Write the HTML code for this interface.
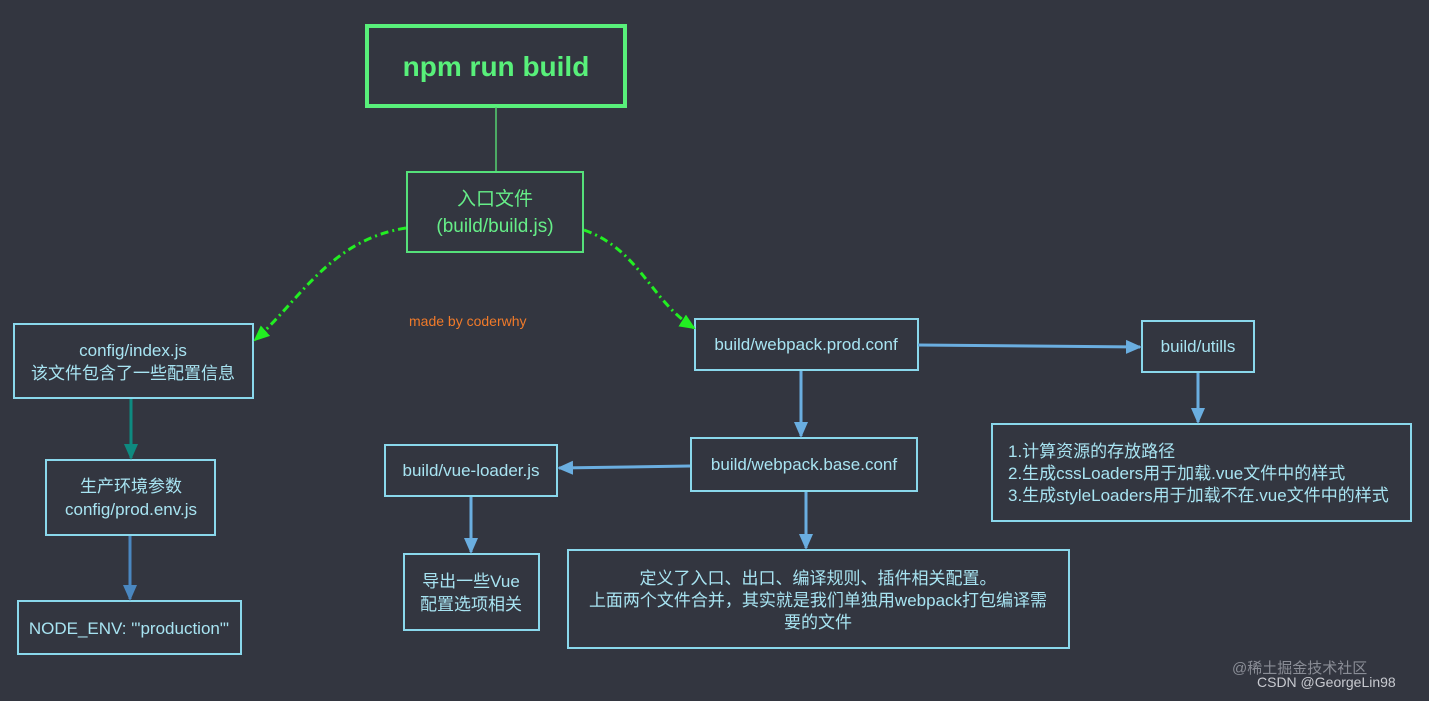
<!DOCTYPE html>
<html><head><meta charset="utf-8"><style>
html,body{margin:0;padding:0;background:#333640;}
svg{display:block}
text{font-family:"Liberation Sans","Noto Sans CJK SC",sans-serif;}
</style></head><body>
<svg width="1429" height="701" viewBox="0 0 1429 701" xmlns="http://www.w3.org/2000/svg">
<defs>
<marker id="ab" markerWidth="16" markerHeight="16" refX="14" refY="8" orient="auto" markerUnits="userSpaceOnUse"><path d="M0,1 L16,8 L0,15 z" fill="#6aaee0"/></marker>
<marker id="at" markerWidth="16" markerHeight="16" refX="14" refY="8" orient="auto" markerUnits="userSpaceOnUse"><path d="M0,1 L16,8 L0,15 z" fill="#0e8a80"/></marker>
<marker id="ad" markerWidth="16" markerHeight="16" refX="14" refY="8" orient="auto" markerUnits="userSpaceOnUse"><path d="M0,1 L16,8 L0,15 z" fill="#4a87c0"/></marker>
<marker id="ag" markerWidth="16" markerHeight="16" refX="14" refY="8" orient="auto" markerUnits="userSpaceOnUse"><path d="M0,1 L16,8 L0,15 z" fill="#22ee22"/></marker>
</defs>
<rect width="1429" height="701" fill="#333640"/>
<g fill="none">
<rect x="367" y="26" width="258" height="80" stroke="#58f07a" stroke-width="4"/>
<line x1="496" y1="107" x2="496" y2="172" stroke="#55d070" stroke-width="1.5"/>
<rect x="407" y="172" width="176" height="80" stroke="#55e07a" stroke-width="2"/>
<g stroke="#8ad8ec" stroke-width="2">
<rect x="14" y="324" width="239" height="74"/>
<rect x="46" y="460" width="169" height="75"/>
<rect x="18" y="601" width="223" height="53"/>
<rect x="385" y="445" width="172" height="51"/>
<rect x="404" y="554" width="135" height="76"/>
<rect x="695" y="319" width="223" height="51"/>
<rect x="691" y="438" width="226" height="53"/>
<rect x="568" y="550" width="501" height="98"/>
<rect x="1142" y="321" width="112" height="51"/>
<rect x="992" y="424" width="419" height="97"/>
</g>
<path d="M406,228 C330,240 300,300 255,340" stroke="#22ee22" stroke-width="3" stroke-dasharray="8,4,2,4" marker-end="url(#ag)"/>
<path d="M584,230 C640,250 650,300 694,328" stroke="#22ee22" stroke-width="3" stroke-dasharray="8,4,2,4" marker-end="url(#ag)"/>
<g stroke="#6aaee0" stroke-width="3">
<line x1="918" y1="345" x2="1140" y2="347" marker-end="url(#ab)"/>
<line x1="801" y1="371" x2="801" y2="436" marker-end="url(#ab)"/>
<line x1="690" y1="466" x2="559" y2="468" marker-end="url(#ab)"/>
<line x1="806" y1="492" x2="806" y2="548" marker-end="url(#ab)"/>
<line x1="471" y1="497" x2="471" y2="552" marker-end="url(#ab)"/>
<line x1="1198" y1="373" x2="1198" y2="422" marker-end="url(#ab)"/>
</g>
<line x1="131" y1="399" x2="131" y2="458" stroke="#0e8a80" stroke-width="3" marker-end="url(#at)"/>
<line x1="130" y1="536" x2="130" y2="599" stroke="#4a87c0" stroke-width="3" marker-end="url(#ad)"/>
</g>
<text x="496" y="76" text-anchor="middle" font-size="28" font-weight="bold" fill="#58f07a">npm run build</text>
<g font-size="19" fill="#66ee88" text-anchor="middle">
<text x="495" y="205">入口文件</text>
<text x="495" y="232">(build/build.js)</text>
</g>
<text x="409" y="326" font-size="14" fill="#f07a2a">made by coderwhy</text>
<g font-size="17" fill="#a8e4f2" text-anchor="middle">
<text x="133" y="356">config/index.js</text>
<text x="133" y="379">该文件包含了一些配置信息</text>
<text x="131" y="492">生产环境参数</text>
<text x="131" y="515">config/prod.env.js</text>
<text x="129" y="634">NODE_ENV: '"production"'</text>
<text x="471" y="476">build/vue-loader.js</text>
<text x="471" y="587">导出一些Vue</text>
<text x="471" y="610">配置选项相关</text>
<text x="806" y="350">build/webpack.prod.conf</text>
<text x="804" y="470">build/webpack.base.conf</text>
<text x="818" y="584">定义了入口、出口、编译规则、插件相关配置。</text>
<text x="818" y="606">上面两个文件合并，其实就是我们单独用webpack打包编译需</text>
<text x="818" y="628">要的文件</text>
<text x="1198" y="352">build/utills</text>
</g>
<g font-size="17" fill="#a8e4f2">
<text x="1008" y="457">1.计算资源的存放路径</text>
<text x="1008" y="479">2.生成cssLoaders用于加载.vue文件中的样式</text>
<text x="1008" y="501">3.生成styleLoaders用于加载不在.vue文件中的样式</text>
</g>
<text x="1232" y="673" font-size="15" fill="#8a8d96">@稀土掘金技术社区</text>
<text x="1257" y="687" font-size="14" fill="#c8cad0">CSDN @GeorgeLin98</text>
</svg>
</body></html>
